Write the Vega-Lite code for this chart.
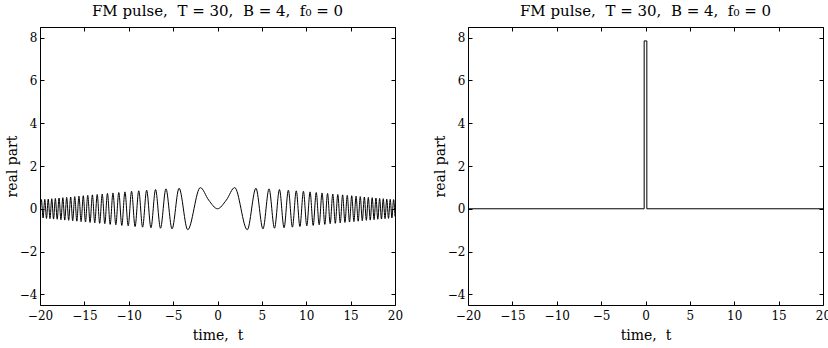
{
  "$schema": "https://vega.github.io/schema/vega-lite/v6.json",
  "background": "white",
  "padding": {"left": 4, "top": 3, "right": 0, "bottom": 0},
  "datasets": {
    "fm": [
      {"t": -20, "y": -0.36}, {"t": -19.843, "y": 0.43}, {"t": -19.653, "y": -0.43}, {"t": -19.462, "y": 0.44}, {"t": -19.268, "y": -0.45},
      {"t": -19.072, "y": 0.45}, {"t": -18.875, "y": -0.46}, {"t": -18.675, "y": 0.47}, {"t": -18.473, "y": -0.48}, {"t": -18.269, "y": 0.48},
      {"t": -18.062, "y": -0.49}, {"t": -17.854, "y": 0.5}, {"t": -17.642, "y": -0.51}, {"t": -17.428, "y": 0.52}, {"t": -17.212, "y": -0.53},
      {"t": -16.993, "y": 0.53}, {"t": -16.771, "y": -0.54}, {"t": -16.545, "y": 0.55}, {"t": -16.317, "y": -0.56}, {"t": -16.086, "y": 0.57},
      {"t": -15.851, "y": -0.58}, {"t": -15.612, "y": 0.59}, {"t": -15.37, "y": -0.6}, {"t": -15.124, "y": 0.61}, {"t": -14.875, "y": -0.62},
      {"t": -14.62, "y": 0.63}, {"t": -14.361, "y": -0.64}, {"t": -14.098, "y": 0.65}, {"t": -13.829, "y": -0.66}, {"t": -13.555, "y": 0.67},
      {"t": -13.276, "y": -0.68}, {"t": -12.99, "y": 0.69}, {"t": -12.698, "y": -0.7}, {"t": -12.4, "y": 0.72}, {"t": -12.093, "y": -0.73},
      {"t": -11.779, "y": 0.74}, {"t": -11.456, "y": -0.75}, {"t": -11.124, "y": 0.76}, {"t": -10.782, "y": -0.78}, {"t": -10.428, "y": 0.79},
      {"t": -10.062, "y": -0.8}, {"t": -9.682, "y": 0.82}, {"t": -9.287, "y": -0.83}, {"t": -8.874, "y": 0.84}, {"t": -8.441, "y": -0.86},
      {"t": -7.984, "y": 0.87}, {"t": -7.5, "y": -0.89}, {"t": -6.982, "y": 0.9}, {"t": -6.423, "y": -0.91}, {"t": -5.809, "y": 0.93},
      {"t": -5.123, "y": -0.94}, {"t": -4.33, "y": 0.96}, {"t": -3.354, "y": -0.98}, {"t": -1.936, "y": 0.99}, {"t": -1, "y": 0.41},
      {"t": 0, "y": 0},
      {"t": 1, "y": 0.41}, {"t": 1.936, "y": 0.99}, {"t": 3.354, "y": -0.98}, {"t": 4.33, "y": 0.96}, {"t": 5.123, "y": -0.94},
      {"t": 5.809, "y": 0.93}, {"t": 6.423, "y": -0.91}, {"t": 6.982, "y": 0.9}, {"t": 7.5, "y": -0.89}, {"t": 7.984, "y": 0.87},
      {"t": 8.441, "y": -0.86}, {"t": 8.874, "y": 0.84}, {"t": 9.287, "y": -0.83}, {"t": 9.682, "y": 0.82}, {"t": 10.062, "y": -0.8},
      {"t": 10.428, "y": 0.79}, {"t": 10.782, "y": -0.78}, {"t": 11.124, "y": 0.76}, {"t": 11.456, "y": -0.75}, {"t": 11.779, "y": 0.74},
      {"t": 12.093, "y": -0.73}, {"t": 12.4, "y": 0.72}, {"t": 12.698, "y": -0.7}, {"t": 12.99, "y": 0.69}, {"t": 13.276, "y": -0.68},
      {"t": 13.555, "y": 0.67}, {"t": 13.829, "y": -0.66}, {"t": 14.098, "y": 0.65}, {"t": 14.361, "y": -0.64}, {"t": 14.62, "y": 0.63},
      {"t": 14.875, "y": -0.62}, {"t": 15.124, "y": 0.61}, {"t": 15.37, "y": -0.6}, {"t": 15.612, "y": 0.59}, {"t": 15.851, "y": -0.58},
      {"t": 16.086, "y": 0.57}, {"t": 16.317, "y": -0.56}, {"t": 16.545, "y": 0.55}, {"t": 16.771, "y": -0.54}, {"t": 16.993, "y": 0.53},
      {"t": 17.212, "y": -0.53}, {"t": 17.428, "y": 0.52}, {"t": 17.642, "y": -0.51}, {"t": 17.854, "y": 0.5}, {"t": 18.062, "y": -0.49},
      {"t": 18.269, "y": 0.48}, {"t": 18.473, "y": -0.48}, {"t": 18.675, "y": 0.47}, {"t": 18.875, "y": -0.46}, {"t": 19.072, "y": 0.45},
      {"t": 19.268, "y": -0.45}, {"t": 19.462, "y": 0.44}, {"t": 19.653, "y": -0.43}, {"t": 19.843, "y": 0.43}, {"t": 20, "y": -0.36}
    ],
    "pulse": [
      {"i": 0, "t": -20, "y": 0}, {"i": 1, "t": -0.15, "y": 0}, {"i": 2, "t": -0.15, "y": 7.85},
      {"i": 3, "t": 0.15, "y": 7.85}, {"i": 4, "t": 0.15, "y": 0}, {"i": 5, "t": 20, "y": 0}
    ]
  },
  "hconcat": [
    {
      "width": 355, "height": 278,
      "title": {"text": "FM pulse,\u00a0\u00a0T\u00a0=\u00a030,\u00a0\u00a0B\u00a0=\u00a04,\u00a0\u00a0f₀\u00a0=\u00a00"},
      "data": {"name": "fm"},
      "layer": [
        {
          "mark": {"type": "line", "interpolate": "monotone", "color": "black", "strokeWidth": 1, "clip": true},
          "encoding": {
            "x": {"field": "t", "type": "quantitative", "scale": {"domain": [-20, 20], "nice": false, "zero": false},
                  "axis": {"values": [-20, -15, -10, -5, 0, 5, 10, 15, 20], "title": "time,\u00a0\u00a0t", "labelPadding": 9, "titlePadding": 7}},
            "y": {"field": "y", "type": "quantitative", "scale": {"domain": [-4.5, 8.5], "nice": false, "zero": false},
                  "axis": {"values": [-4, -2, 0, 2, 4, 6, 8], "title": "real part", "labelPadding": 7, "titlePadding": 0}}
          }
        },
        {
          "mark": {"type": "line", "opacity": 0},
          "encoding": {
            "x": {"field": "t", "type": "quantitative", "scale": {"domain": [-20, 20], "nice": false, "zero": false},
                  "axis": {"orient": "top", "labels": false, "title": null, "values": [-20, -15, -10, -5, 0, 5, 10, 15, 20]}},
            "y": {"field": "y", "type": "quantitative", "scale": {"domain": [-4.5, 8.5], "nice": false, "zero": false},
                  "axis": {"orient": "right", "labels": false, "title": null, "values": [-4, -2, 0, 2, 4, 6, 8]}}
          }
        }
      ],
      "resolve": {"axis": {"x": "independent", "y": "independent"}}
    },
    {
      "width": 355, "height": 278,
      "title": {"text": "FM pulse,\u00a0\u00a0T\u00a0=\u00a030,\u00a0\u00a0B\u00a0=\u00a04,\u00a0\u00a0f₀\u00a0=\u00a00"},
      "data": {"name": "pulse"},
      "layer": [
        {
          "mark": {"type": "line", "color": "black", "strokeWidth": 1, "clip": true},
          "encoding": {
            "x": {"field": "t", "type": "quantitative", "scale": {"domain": [-20, 20], "nice": false, "zero": false},
                  "axis": {"values": [-20, -15, -10, -5, 0, 5, 10, 15, 20], "title": "time,\u00a0\u00a0t", "labelPadding": 9, "titlePadding": 7}},
            "y": {"field": "y", "type": "quantitative", "scale": {"domain": [-4.5, 8.5], "nice": false, "zero": false},
                  "axis": {"values": [-4, -2, 0, 2, 4, 6, 8], "title": "real part", "labelPadding": 7, "titlePadding": 0}},
            "order": {"field": "i", "type": "quantitative"}
          }
        },
        {
          "mark": {"type": "line", "opacity": 0},
          "encoding": {
            "x": {"field": "t", "type": "quantitative", "scale": {"domain": [-20, 20], "nice": false, "zero": false},
                  "axis": {"orient": "top", "labels": false, "title": null, "values": [-20, -15, -10, -5, 0, 5, 10, 15, 20]}},
            "y": {"field": "y", "type": "quantitative", "scale": {"domain": [-4.5, 8.5], "nice": false, "zero": false},
                  "axis": {"orient": "right", "labels": false, "title": null, "values": [-4, -2, 0, 2, 4, 6, 8]}},
            "order": {"field": "i", "type": "quantitative"}
          }
        }
      ],
      "resolve": {"axis": {"x": "independent", "y": "independent"}}
    }
  ],
  "spacing": 28,
  "config": {
    "font": "DejaVu Serif",
    "view": {"stroke": "black", "strokeWidth": 1},
    "axis": {
      "domain": false, "grid": false, "ticks": true, "tickColor": "black", "tickSize": -4, "tickWidth": 1, "labelFlush": false,
      "labelFont": "DejaVu Serif", "labelFontSize": 12, "labelColor": "black", "labelPadding": 6,
      "titleFont": "DejaVu Serif", "titleFontSize": 14, "titleFontWeight": "normal", "titleColor": "black", "titlePadding": 2
    },
    "title": {"font": "DejaVu Serif", "fontSize": 15, "fontWeight": "normal", "color": "black", "offset": 8}
  }
}
